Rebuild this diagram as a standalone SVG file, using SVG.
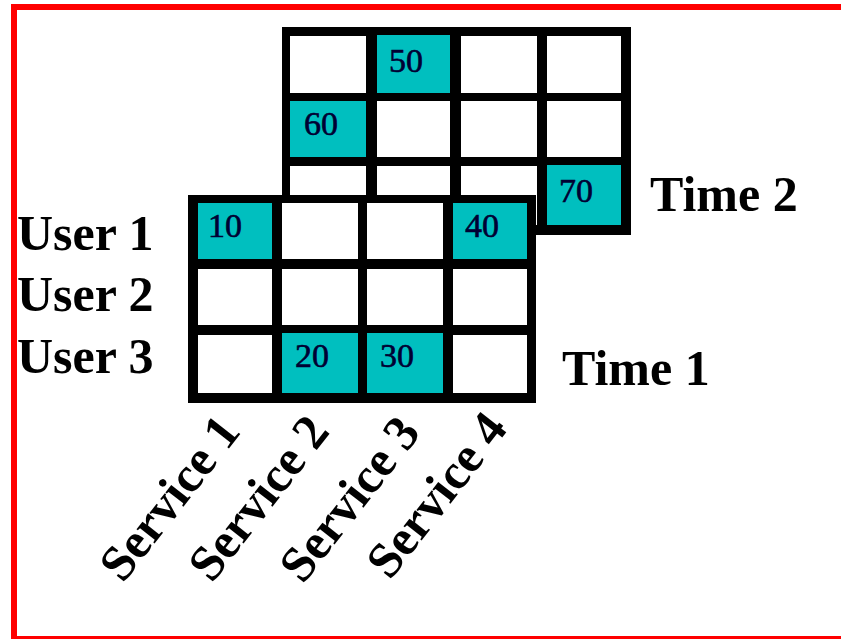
<svg xmlns="http://www.w3.org/2000/svg" width="841" height="639" viewBox="0 0 841 639">
<style>
.grid{fill:#000}
.w{fill:#fff}
.t{fill:#00bfbf}
.num{font-family:"Liberation Serif","Times New Roman",serif;font-size:34px;fill:#000033;stroke:#000033;stroke-width:0.6}
.lbl{font-family:"Liberation Serif","Times New Roman",serif;font-size:50px;font-weight:bold;fill:#000}
</style>
<rect x="0" y="0" width="841" height="639" fill="#fff"/>
<rect x="14" y="7" width="900" height="632" fill="none" stroke="#ff0000" stroke-width="6"/>
<g id="time2-grid">
<rect class="grid" x="282" y="27" width="349" height="208"/>
<rect class="w" x="290" y="36" width="76" height="57"/>
<rect class="t" x="377" y="35" width="73" height="58"/>
<rect class="w" x="461" y="36" width="76" height="57"/>
<rect class="w" x="547" y="36" width="74" height="57"/>
<rect class="t" x="290" y="101" width="76" height="56"/>
<rect class="w" x="377" y="101" width="73" height="56"/>
<rect class="w" x="461" y="101" width="76" height="56"/>
<rect class="w" x="547" y="101" width="74" height="56"/>
<rect class="w" x="290" y="166" width="76" height="59"/>
<rect class="w" x="377" y="166" width="73" height="59"/>
<rect class="w" x="461" y="166" width="76" height="59"/>
<rect class="t" x="547" y="165" width="74" height="60"/>
<text class="num" x="389" y="71.5">50</text>
<text class="num" x="304" y="135">60</text>
<text class="num" x="559" y="201.5">70</text>
</g>
<g id="time1-grid">
<rect class="grid" x="188" y="195" width="348" height="208"/>
<rect class="t" x="198" y="203" width="74" height="56"/>
<rect class="w" x="282" y="203" width="76" height="56"/>
<rect class="w" x="367" y="203" width="76" height="56"/>
<rect class="t" x="453" y="203" width="74" height="56"/>
<rect class="w" x="198" y="269" width="74" height="56"/>
<rect class="w" x="282" y="269" width="76" height="56"/>
<rect class="w" x="367" y="269" width="76" height="56"/>
<rect class="w" x="453" y="269" width="74" height="56"/>
<rect class="w" x="198" y="335" width="74" height="58"/>
<rect class="t" x="282" y="333" width="76" height="60"/>
<rect class="t" x="367" y="333" width="76" height="60"/>
<rect class="w" x="453" y="335" width="74" height="58"/>
<text class="num" x="208" y="237">10</text>
<text class="num" x="465" y="237">40</text>
<text class="num" x="295" y="366.5">20</text>
<text class="num" x="380" y="366.5">30</text>
</g>
<g id="user-labels">
<text class="lbl" x="17" y="250">User 1</text>
<text class="lbl" x="17" y="311">User 2</text>
<text class="lbl" x="17" y="373">User 3</text>
</g>
<g id="time-labels">
<text class="lbl" x="650" y="211">Time 2</text>
<text class="lbl" x="562" y="385">Time 1</text>
</g>
<g id="service-labels">
<text class="lbl" transform="translate(123,584) rotate(-52)">Service 1</text>
<text class="lbl" transform="translate(212,584) rotate(-52)">Service 2</text>
<text class="lbl" transform="translate(303,585) rotate(-52)">Service 3</text>
<text class="lbl" transform="translate(390,581) rotate(-52)">Service 4</text>
</g>
</svg>
